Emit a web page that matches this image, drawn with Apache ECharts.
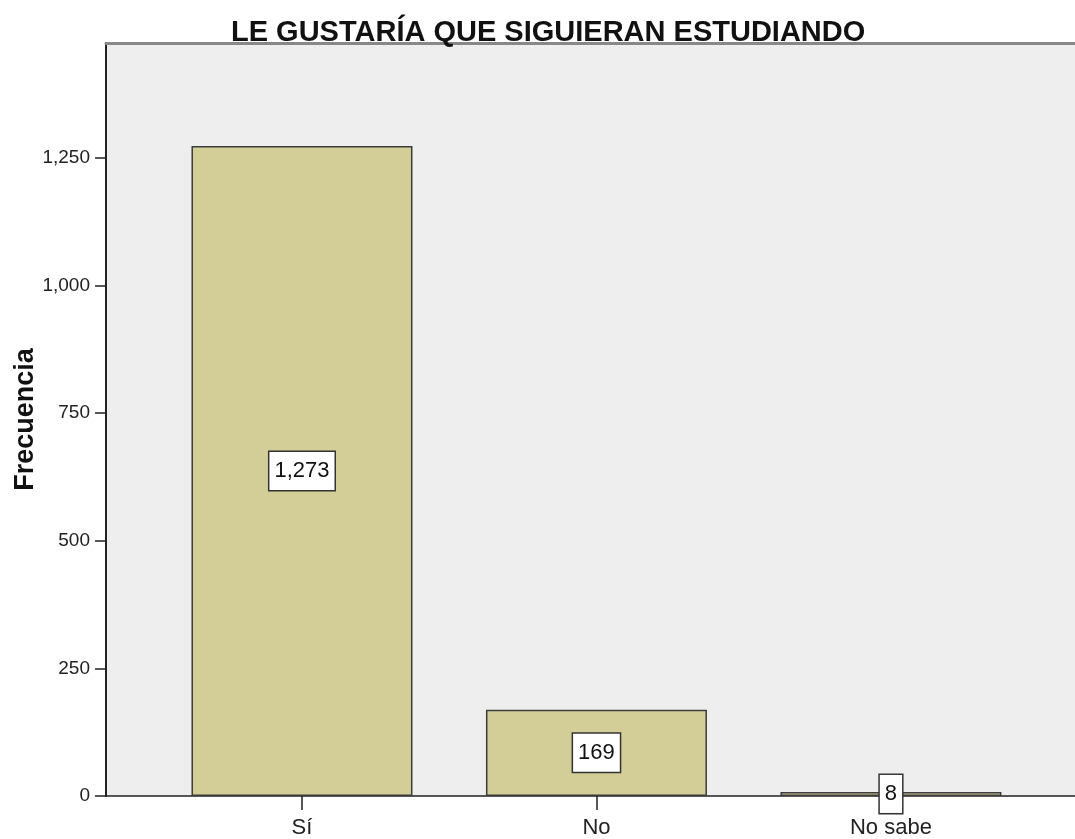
<!DOCTYPE html>
<html>
<head>
<meta charset="utf-8">
<script src="https://cdn.jsdelivr.net/npm/echarts@6/dist/echarts.min.js"></script>
<style>
  html, body { margin: 0; padding: 0; background: #fff; }
  #main { width: 1075px; height: 839px; }
</style>
</head>
<body>
<div id="main"></div>
<script>
const categories = ['Sí', 'No', 'No sabe']
const frecuencias = [1273, 169, 8]
const yTicks = [0, 250, 500, 750, 1000, 1250]
const catPositions = [1, 2, 3]

const fmt = v => v.toLocaleString('en-US')
const fontFam = '"Liberation Sans", Arial, sans-serif'

const chart = echarts.init(document.getElementById('main'))

const option = {
  animation: false,
  textStyle: { fontFamily: fontFam },
  title: {
    text: 'LE GUSTARÍA QUE SIGUIERAN ESTUDIANDO',
    left: 226,
    top: 13,
    textStyle: { fontSize: 29, fontWeight: 'bold', color: '#111', fontFamily: fontFam }
  },
  grid: {
    left: 106,
    right: -10,
    top: 43,
    bottom: 43,
    outerBoundsMode: 'none',
    containLabel: false,
    show: true,
    backgroundColor: '#eeeeee',
    borderWidth: 0
  },
  xAxis: [{
    type: 'value',
    min: 0.3345,
    max: 3.659,
    splitLine: { show: false },
    axisLine: { show: true, onZero: false, lineStyle: { color: '#222', width: 1.5 } },
    axisTick: { show: true, customValues: catPositions, length: 14, lineStyle: { color: '#222', width: 1.5 } },
    axisLabel: {
      customValues: catPositions,
      formatter: v => categories[Math.round(v) - 1] || '',
      margin: 21,
      fontSize: 22,
      color: '#222',
      fontFamily: fontFam
    }
  }, {
    type: 'value',
    position: 'top',
    min: 0.3345,
    max: 3.659,
    splitLine: { show: false },
    axisLine: { show: true, onZero: false, lineStyle: { color: '#888', width: 3 } },
    axisTick: { show: false },
    axisLabel: { show: false }
  }],
  yAxis: {
    type: 'value',
    min: 0,
    max: 1475,
    name: 'Frecuencia',
    nameLocation: 'middle',
    nameGap: 67,
    nameMoveOverlap: false,
    nameTextStyle: { fontSize: 27, fontWeight: 'bold', color: '#111', fontFamily: fontFam },
    splitLine: { show: false },
    axisLine: { show: true, lineStyle: { color: '#222', width: 2 } },
    axisTick: { show: true, customValues: yTicks, length: 11, lineStyle: { color: '#222', width: 1.5 } },
    axisLabel: {
      customValues: yTicks,
      formatter: v => fmt(v),
      margin: 16,
      fontSize: 19,
      color: '#222',
      fontFamily: fontFam
    }
  },
  series: [{
    type: 'bar',
    xAxisIndex: 0,
    data: frecuencias.map((v, i) => [catPositions[i], v]),
    barWidth: 221,
    itemStyle: {
      color: '#d3ce97',
      borderColor: '#3c3c3c',
      borderWidth: 1.5
    },
    label: {
      show: true,
      position: 'inside',
      formatter: p => fmt(p.value[1]),
      fontSize: 22,
      lineHeight: 22,
      color: '#111',
      backgroundColor: '#fff',
      borderColor: '#333',
      borderWidth: 1.5,
      padding: [8, 5, 8, 5],
      fontFamily: fontFam
    }
  }]
}

chart.setOption(option)
</script>
</body>
</html>
